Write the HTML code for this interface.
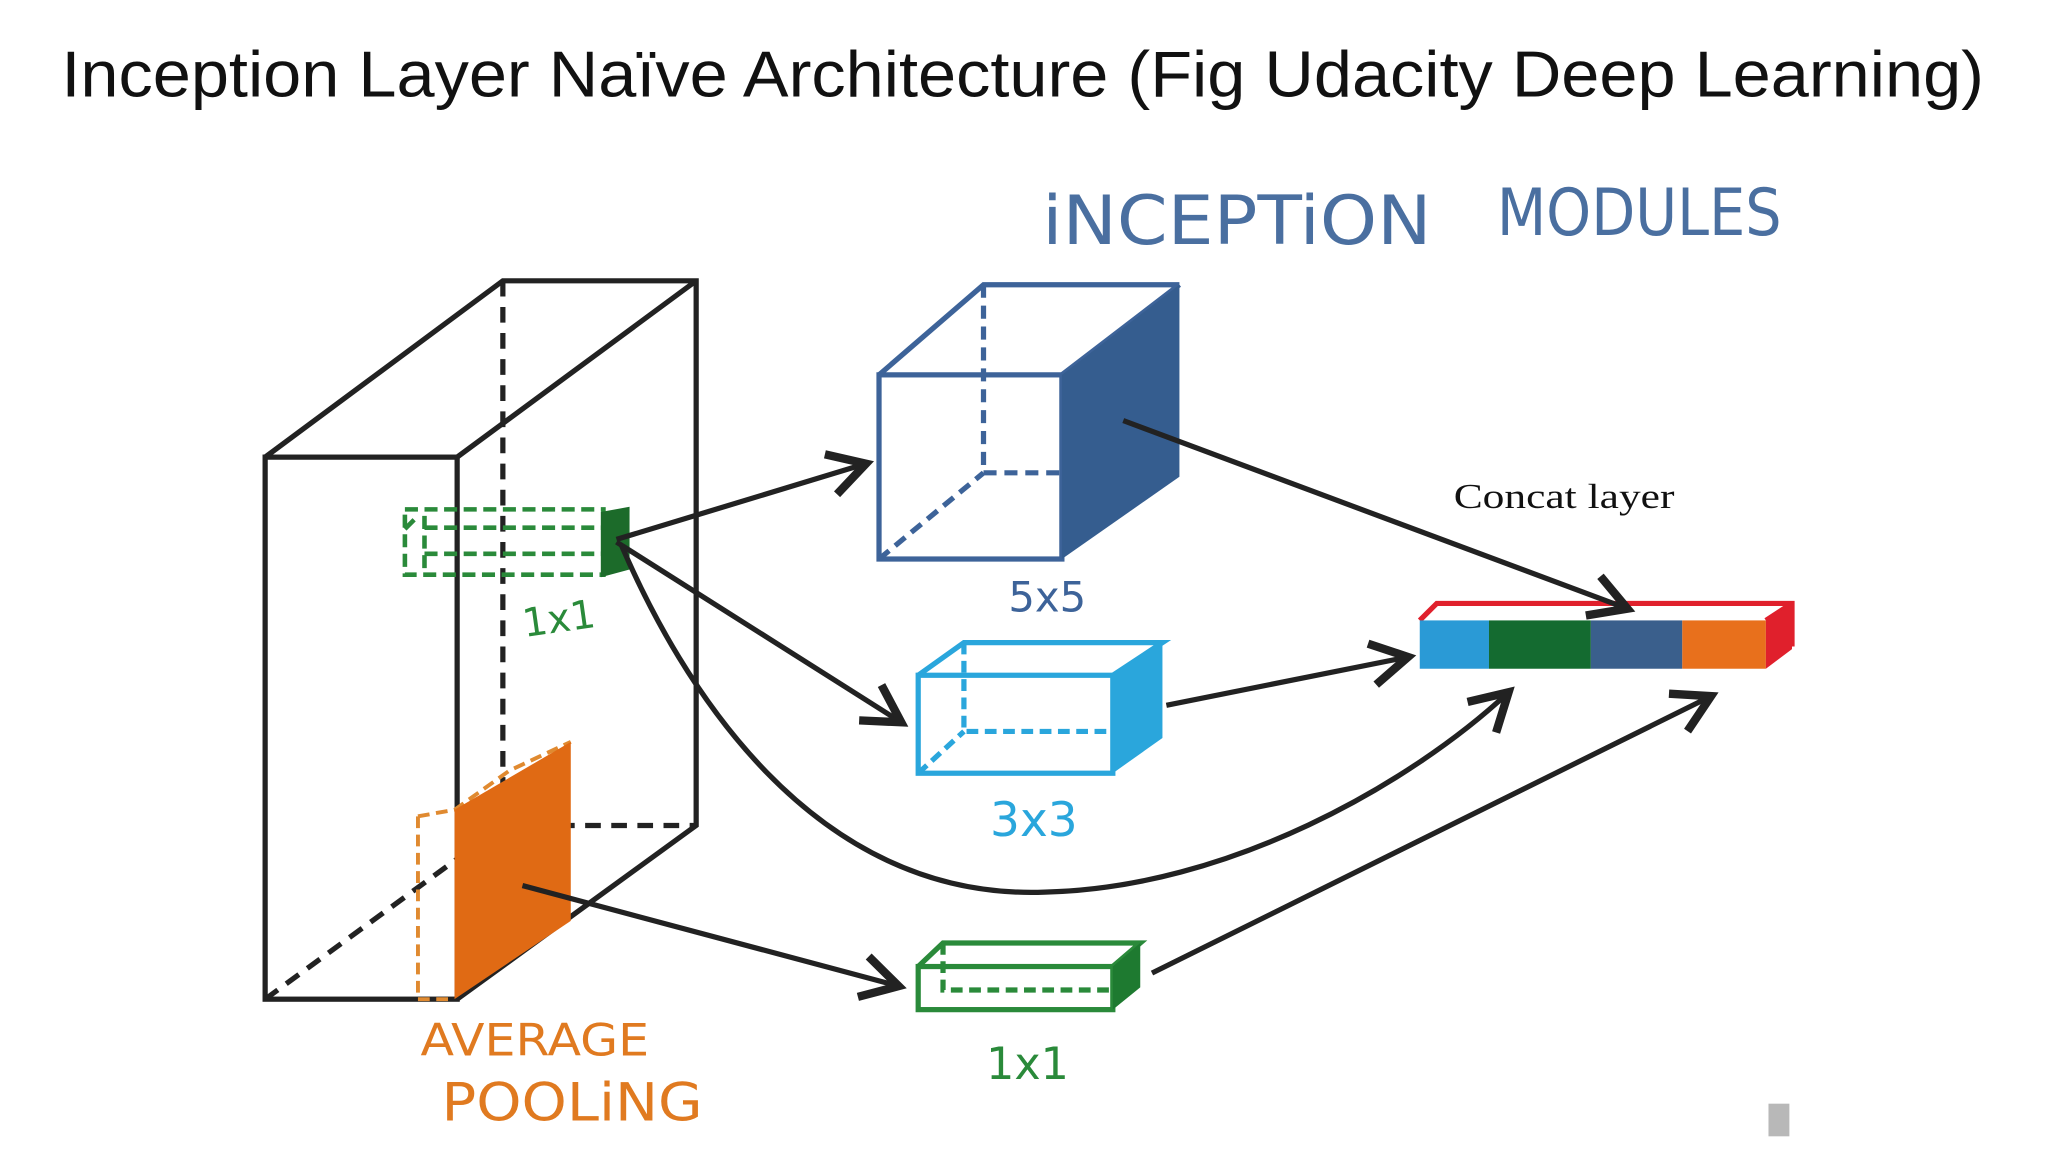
<!DOCTYPE html>
<html><head><meta charset="utf-8"><style>
html,body{margin:0;padding:0;background:#fff;overflow:hidden}
svg{display:block}
.hw{font-family:"DejaVu Sans","Liberation Sans",sans-serif;font-weight:normal}
</style></head><body>
<svg width="2048" height="1152" viewBox="0 0 1568 882" preserveAspectRatio="none" xmlns="http://www.w3.org/2000/svg">
<defs>
<marker id="ah" markerWidth="10" markerHeight="10" refX="8" refY="5" orient="auto" markerUnits="strokeWidth">
<path d="M1,1 L8,5 L1,9" fill="none" stroke="#222" stroke-width="1.6"/>
</marker>
</defs>
<rect width="1568" height="882" fill="#fff"/>
<text x="783" y="74" text-anchor="middle" font-family="Liberation Sans, sans-serif" font-size="50" fill="#111" textLength="1472" lengthAdjust="spacingAndGlyphs">Inception Layer Naïve Architecture (Fig Udacity Deep Learning)</text>

<text x="798" y="187" class="hw" font-size="52" fill="#4a6fa0" textLength="298" lengthAdjust="spacingAndGlyphs">iNCEPTiON</text>
<text x="1146" y="180" class="hw" font-size="50" fill="#4a6fa0" textLength="218" lengthAdjust="spacingAndGlyphs">MODULES</text>

<g fill="none" stroke="#222" stroke-width="4">
<rect x="203" y="350" width="147" height="415"/>
<path d="M203,350 L385,215 L533,215 L533,632 L350,765 M350,350 L533,215"/>
<path d="M385,215 L385,632 L533,632 M203,765 L385,632" stroke-dasharray="12,8"/>
</g>
<g fill="none" stroke="#2a8a3a" stroke-width="3.5" stroke-dasharray="10,5">
<rect x="310" y="390" width="152" height="50"/>
<path d="M310,405 L320,395 M325,404 L462,404 M325,424 L462,424 M325,395 L325,440"/>
</g>
<polygon points="460,392 482,388 482,436 460,442" fill="#1c6b2a"/>
<text x="400" y="485" class="hw" font-size="30" fill="#2a8a3a" transform="rotate(-8 420 475)">1x1</text>
<g fill="none" stroke="#e08a30" stroke-width="3" stroke-dasharray="9,5">
<path d="M320,625 L320,765 L348,765 M320,625 L348,620 L390,590 L437,568"/>
</g>
<polygon points="348,620 437,568 437,705 348,765" fill="#e06a14"/>
<text x="322" y="808" class="hw" font-size="34" fill="#e07a20" textLength="175" lengthAdjust="spacingAndGlyphs">AVERAGE</text>
<text x="338" y="858" class="hw" font-size="40" fill="#e07a20" textLength="200" lengthAdjust="spacingAndGlyphs">POOLiNG</text>

<g fill="none" stroke="#3d6399" stroke-width="4">
<rect x="673" y="287" width="140" height="141"/>
<path d="M673,287 L753,218 L903,218 M813,287 L903,218"/>
<path d="M753,218 L753,362 L813,362 M673,428 L753,362" stroke-dasharray="10,6"/>
</g>
<polygon points="813,287 903,218 903,365 813,428" fill="#355d8f"/>
<text x="772" y="468" class="hw" font-size="32" fill="#3d6399">5x5</text>

<g fill="none" stroke="#2aa6dc" stroke-width="4">
<rect x="703" y="517" width="149" height="75"/>
<path d="M703,517 L738,492 L890,492 L852,517"/>
<path d="M738,492 L738,560 L852,560 M703,592 L738,560" stroke-dasharray="9,5"/>
</g>
<polygon points="852,517 890,492 890,565 852,592" fill="#2aa6dc"/>
<text x="758" y="640" class="hw" font-size="36" fill="#2aa6dc">3x3</text>

<g fill="none" stroke="#2a8a3a" stroke-width="4">
<rect x="703" y="740" width="149" height="33"/>
<path d="M703,740 L722,722 L873,722 L852,740"/>
<path d="M722,722 L722,758 L852,758" stroke-dasharray="9,5"/>
</g>
<polygon points="852,740 873,722 873,756 852,773" fill="#1e7a30"/>
<text x="755" y="826" class="hw" font-size="34" fill="#2a8a3a">1x1</text>

<text x="1113" y="389" font-family="Liberation Serif, serif" font-size="27" fill="#111" textLength="169" lengthAdjust="spacingAndGlyphs">Concat layer</text>
<path d="M1087,475 L1100,462 L1372,462 L1372,495 M1352,475 L1372,462" fill="none" stroke="#e0202c" stroke-width="4"/>
<rect x="1087" y="475" width="53" height="37" fill="#2a9ad6"/>
<rect x="1140" y="475" width="78" height="37" fill="#146b30"/>
<rect x="1218" y="475" width="70" height="37" fill="#3a5f8c"/>
<rect x="1288" y="475" width="64" height="37" fill="#e8701c"/>
<polygon points="1352,475 1372,462 1372,497 1352,512" fill="#e0202c"/>

<g fill="none" stroke="#222" stroke-width="4" marker-end="url(#ah)">
<path d="M472,413 L663,355"/>
<path d="M472,415 L690,553"/>
<path d="M476,418 C520,520 620,690 800,683 C940,680 1080,600 1155,530"/>
<path d="M400,678 L688,755"/>
<path d="M860,322 L1246,466"/>
<path d="M893,540 L1078,503"/>
<path d="M882,745 L1310,533"/>
</g>
<rect x="1354" y="845" width="16" height="25" fill="#888" opacity="0.6"/>
</svg>
</body></html>
